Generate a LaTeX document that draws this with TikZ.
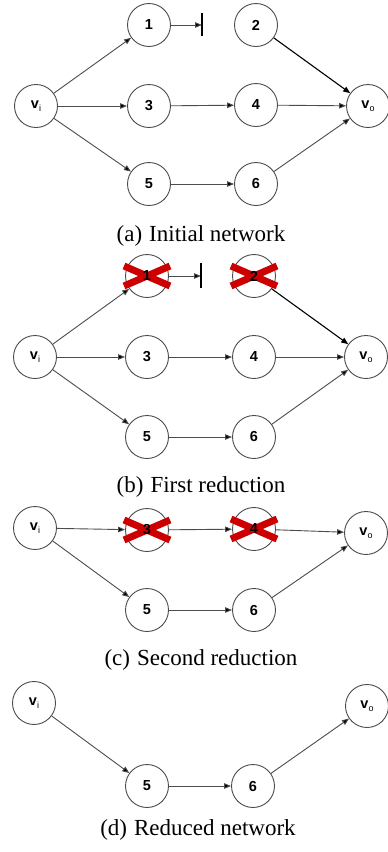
\documentclass[tikz,border=0pt]{standalone}
\usepackage{fontspec}
\setmainfont{Liberation Serif}
\newfontfamily\nodefont{Liberation Sans}
\usetikzlibrary{arrows.meta}

\newcommand{\vsub}[1]{v\raisebox{-3.5pt}{\fontsize{9}{9}\selectfont\mdseries #1}}

\begin{document}
\begin{tikzpicture}[x=1pt, y=-1pt, >={Triangle[length=7pt,width=5.5pt]}, thin,
    main node/.style={circle, draw=black!70, fill=white, line width=0.9pt, minimum size=43pt, inner sep=0pt, font=\nodefont\bfseries\fontsize{14.5}{14.5}\selectfont},
    link/.style={->, draw=black!70, line width=0.9pt},
    strong link/.style={->, draw=black, line width=1.1pt},
    stop bar/.style={draw=black, line width=1.2pt},
    red cross/.style={draw=red!80!black, line width=7pt},
    caption/.style={font=\fontsize{23}{23}\selectfont}]

    \useasboundingbox (0,0) rectangle (388,852);

    % (a) initial network
    \node[main node] at (36, 106) (avi) {\vsub{i}};
    \node[main node] at (149, 25) (a1) {1};
    \node[main node] at (256, 25) (a2) {2};
    \node[main node] at (149, 106) (a3) {3};
    \node[main node] at (256, 105) (a4) {4};
    \node[main node] at (368, 106) (avo) {\vsub{o}};
    \node[main node] at (149, 184) (a5) {5};
    \node[main node] at (256, 184) (a6) {6};
    \coordinate (aend) at (202, 25);
    \coordinate (atop) at (202, 13);
    \coordinate (abot) at (202, 36);

    \path[link] (avi) edge (a1);
    \path[link] (avi) edge (a3);
    \path[link] (avi) edge (a5);
    \path[link] (a1) edge (aend);
    \path[stop bar] (atop) edge (abot);
    \path[strong link] (a2) edge (avo);
    \path[link] (a3) edge (a4);
    \path[link] (a4) edge (avo);
    \path[link] (a5) edge (a6);
    \path[link] (a6) edge (avo);
    \node[caption] at (201, 236) (capa) {(a)\hspace{7pt}Initial network};

    % (b) first reduction
    \node[main node] at (35, 357) (bvi) {\vsub{i}};
    \node[main node] at (147, 276) (b1) {};
    \node[main node] at (254, 276) (b2) {};
    \node[main node] at (147, 357) (b3) {3};
    \node[main node] at (254, 357) (b4) {4};
    \node[main node] at (366, 357) (bvo) {\vsub{o}};
    \node[main node] at (147, 437) (b5) {5};
    \node[main node] at (254, 437) (b6) {6};
    \coordinate (bend) at (201, 276);
    \coordinate (btop) at (201, 263);
    \coordinate (bbot) at (201, 288);

    \path[link] (bvi) edge (b1);
    \path[link] (bvi) edge (b3);
    \path[link] (bvi) edge (b5);
    \path[link] (b1) edge (bend);
    \path[stop bar] (btop) edge (bbot);
    \path[strong link] (b2) edge (bvo);
    \path[link] (b3) edge (b4);
    \path[link] (b4) edge (bvo);
    \path[link] (b5) edge (b6);
    \path[link] (b6) edge (bvo);
    \foreach \n in {b1, b2} {
        \draw[red cross] ([shift={(-23,-10)}]\n.center) -- ([shift={(23,10)}]\n.center);
        \draw[red cross] ([shift={(-23,10)}]\n.center) -- ([shift={(23,-10)}]\n.center);
    }
    \node[font=\nodefont\bfseries\fontsize{14.5}{14.5}\selectfont] at (b1) (b1t) {1};
    \node[font=\nodefont\bfseries\fontsize{14.5}{14.5}\selectfont] at (b2) (b2t) {2};
    \node[caption] at (201, 487) (capb) {(b)\hspace{7pt}First reduction};

    % (c) second reduction
    \node[main node] at (35, 528) (cvi) {\vsub{i}};
    \node[main node] at (147, 530) (c3) {};
    \node[main node] at (254, 529) (c4) {};
    \node[main node] at (366, 533) (cvo) {\vsub{o}};
    \node[main node] at (147, 610) (c5) {5};
    \node[main node] at (254, 610) (c6) {6};

    \path[link] (cvi) edge (c3);
    \path[link] (cvi) edge (c5);
    \path[link] (c3) edge (c4);
    \path[link] (c4) edge (cvo);
    \path[link] (c5) edge (c6);
    \path[link] (c6) edge (cvo);
    \foreach \n in {c3, c4} {
        \draw[red cross] ([shift={(-23,-10)}]\n.center) -- ([shift={(23,10)}]\n.center);
        \draw[red cross] ([shift={(-23,10)}]\n.center) -- ([shift={(23,-10)}]\n.center);
    }
    \node[font=\nodefont\bfseries\fontsize{14.5}{14.5}\selectfont] at (c3) (c3t) {3};
    \node[font=\nodefont\bfseries\fontsize{14.5}{14.5}\selectfont] at (c4) (c4t) {4};
    \node[caption] at (201, 660) (capc) {(c)\hspace{7pt}Second reduction};

    % (d) reduced network
    \node[main node] at (34, 703) (dvi) {\vsub{i}};
    \node[main node] at (367, 706) (dvo) {\vsub{o}};
    \node[main node] at (147, 786) (d5) {5};
    \node[main node] at (253, 786) (d6) {6};

    \path[link] (dvi) edge (d5);
    \path[link] (d5) edge (d6);
    \path[link] (d6) edge (dvo);
    \node[caption] at (198, 830) (capd) {(d)\hspace{7pt}Reduced network};

\end{tikzpicture}
\end{document}
